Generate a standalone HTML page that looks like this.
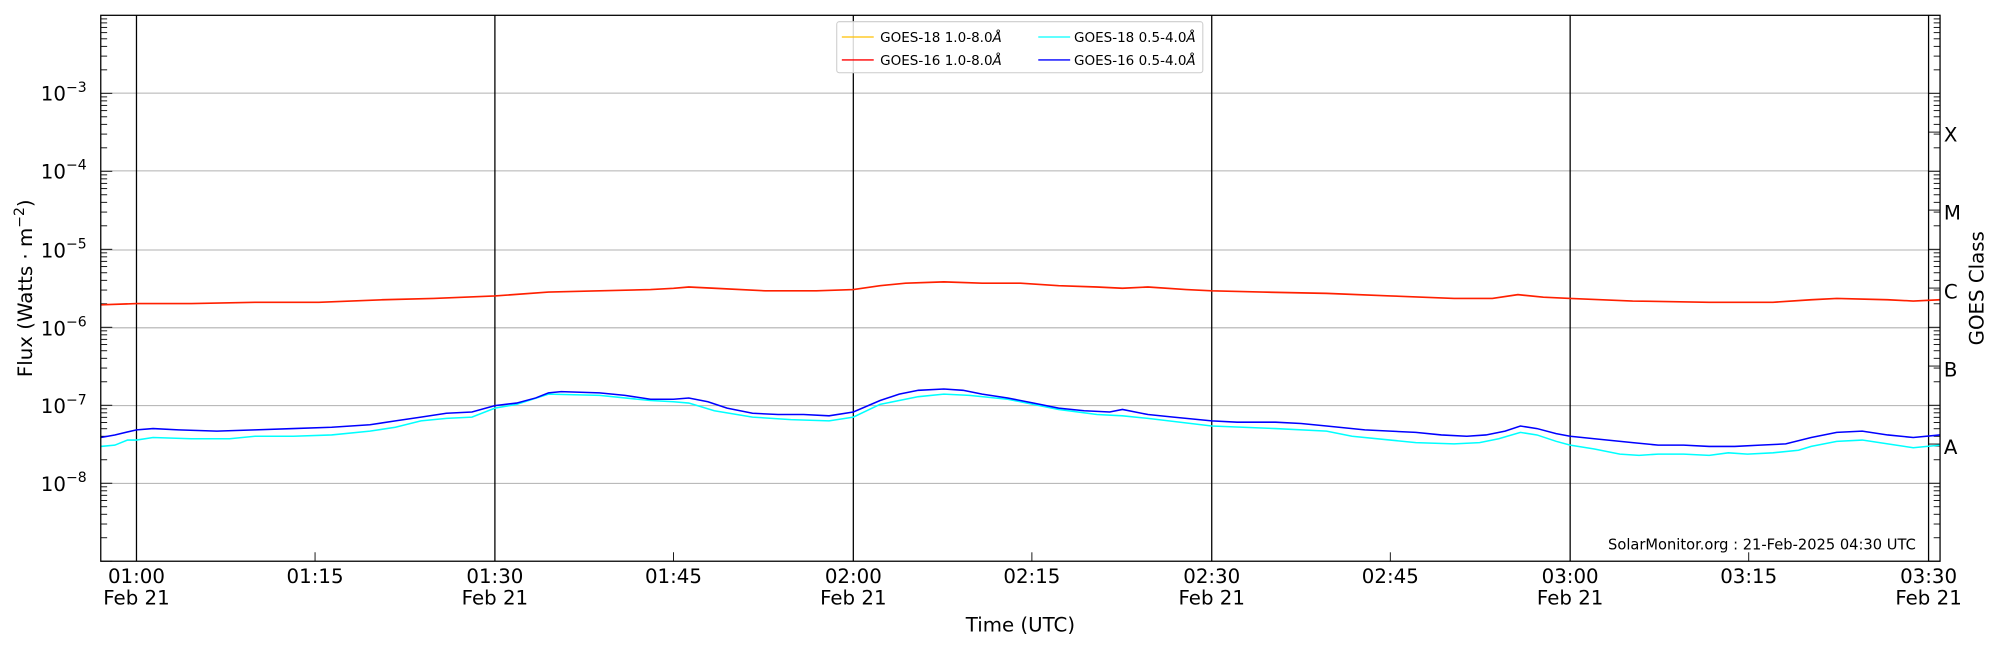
<!DOCTYPE html>
<html><head><meta charset="utf-8"><style>html,body{margin:0;padding:0;background:#fff}svg{display:block}</style></head>
<body>
<svg width="2000" height="650" viewBox="0 0 1568 509.6" preserveAspectRatio="none" xmlns="http://www.w3.org/2000/svg" font-family="'DejaVu Sans','Liberation Sans',sans-serif">
<rect width="1568" height="509.6" fill="#fff"/>
<g stroke="#b0b0b0" stroke-width="0.8">
<line x1="79" x2="1521" y1="73" y2="73"/><line x1="79" x2="1521" y1="134" y2="134"/><line x1="79" x2="1521" y1="196" y2="196"/><line x1="79" x2="1521" y1="257" y2="257"/><line x1="79" x2="1521" y1="318" y2="318"/><line x1="79" x2="1521" y1="379" y2="379"/>
</g>
<g stroke="#000" stroke-width="1">
<line x1="107" x2="107" y1="12" y2="440"/><line x1="388" x2="388" y1="12" y2="440"/><line x1="669" x2="669" y1="12" y2="440"/><line x1="950" x2="950" y1="12" y2="440"/><line x1="1231" x2="1231" y1="12" y2="440"/><line x1="1512" x2="1512" y1="12" y2="440"/>
</g>
<g id="ticks" stroke="#000" stroke-width="0.7"></g>
<polyline fill="none" stroke="#ff2000" stroke-width="1.3" points="79,239 107,238 150,238 200,237 250,237 300,235 340,234 388,232 430,229 470,228 510,227 528,226 540,225 560,226 600,228 640,228 669,227 690,224 710,222 740,221 770,222 800,222 830,224 860,225 880,226 900,225 930,227 950,228 990,229 1040,230 1090,232 1140,234 1170,234 1190,231 1210,233 1231,234 1280,236 1340,237 1390,237 1420,235 1440,234 1480,235 1500,236 1521,235"/>
<polyline fill="none" stroke="#00ffff" stroke-width="1.2" points="79,350 90,349 100,345 107,345 120,343 150,344 180,344 200,342 230,342 260,341 290,338 310,335 330,330 350,328 370,327 388,320 405,317 430,309 470,310 510,314 528,315 540,316 560,322 590,327 620,329 650,330 669,327 690,317 720,311 740,309 760,310 790,313 810,317 830,321 860,325 880,326 900,328 950,334 1000,336 1040,338 1060,342 1090,345 1110,347 1140,348 1160,347 1175,344 1192,339 1205,341 1220,346 1231,349 1250,352 1270,356 1285,357 1300,356 1320,356 1340,357 1355,355 1370,356 1390,355 1410,353 1420,350 1440,346 1460,345 1480,348 1500,351 1521,349"/>
<polyline fill="none" stroke="#0000ff" stroke-width="1.2" points="79,343 90,341 107,337 120,336 140,337 170,338 200,337 230,336 260,335 290,333 310,330 330,327 350,324 370,323 388,318 405,316 420,312 430,308 440,307 470,308 490,310 510,313 528,313 540,312 555,315 570,320 590,324 610,325 630,325 650,326 669,323 690,314 705,309 720,306 740,305 755,306 770,309 790,312 810,316 830,320 850,322 870,323 880,321 900,325 920,327 950,330 970,331 1000,331 1020,332 1040,334 1070,337 1090,338 1110,339 1130,341 1150,342 1165,341 1180,338 1192,334 1205,336 1220,340 1231,342 1250,344 1280,347 1300,349 1320,349 1340,350 1360,350 1380,349 1400,348 1420,343 1440,339 1460,338 1480,341 1500,343 1521,341"/>
<rect x="79" y="12" width="1442" height="428" fill="none" stroke="#000" stroke-width="1"/>
<g font-size="15.5" fill="#000">
<text x="32" y="79">10<tspan dy="-7" font-size="11">−3</tspan></text>
<text x="32" y="140">10<tspan dy="-7" font-size="11">−4</tspan></text>
<text x="32" y="202">10<tspan dy="-7" font-size="11">−5</tspan></text>
<text x="32" y="263">10<tspan dy="-7" font-size="11">−6</tspan></text>
<text x="32" y="324">10<tspan dy="-7" font-size="11">−7</tspan></text>
<text x="32" y="385">10<tspan dy="-7" font-size="11">−8</tspan></text>
</g>
<g font-size="15.5" text-anchor="middle">
<text x="107" y="457">01:00</text><text x="107" y="474">Feb 21</text>
<text x="247" y="457">01:15</text>
<text x="388" y="457">01:30</text><text x="388" y="474">Feb 21</text>
<text x="528" y="457">01:45</text>
<text x="669" y="457">02:00</text><text x="669" y="474">Feb 21</text>
<text x="809" y="457">02:15</text>
<text x="950" y="457">02:30</text><text x="950" y="474">Feb 21</text>
<text x="1090" y="457">02:45</text>
<text x="1231" y="457">03:00</text><text x="1231" y="474">Feb 21</text>
<text x="1371" y="457">03:15</text>
<text x="1512" y="457">03:30</text><text x="1512" y="474">Feb 21</text>
<text x="800" y="495">Time (UTC)</text>
<text transform="translate(25,226) rotate(-90)">Flux (Watts · m<tspan dy="-6" font-size="11">−2</tspan><tspan dy="6">)</tspan></text>
<text transform="translate(1555,226) rotate(-90)">GOES Class</text>
</g>
<g font-size="15.5">
<text x="1524" y="111">X</text><text x="1524" y="172">M</text><text x="1524" y="234">C</text><text x="1524" y="295">B</text><text x="1524" y="356">A</text>
</g>
<text x="1502" y="431" font-size="11.5" text-anchor="end">SolarMonitor.org : 21-Feb-2025 04:30 UTC</text>
<rect x="656" y="17" width="287" height="40" fill="#fff" fill-opacity="0.85" stroke="#ccc" stroke-width="0.8" rx="2"/>
<g font-size="10.6">
<line x1="660" x2="685" y1="29" y2="29" stroke="#ffc000"/><text x="690" y="33">GOES-18 1.0-8.0<tspan font-style="italic">Å</tspan></text>
<line x1="660" x2="685" y1="47" y2="47" stroke="#ff0000"/><text x="690" y="51">GOES-16 1.0-8.0<tspan font-style="italic">Å</tspan></text>
<line x1="814" x2="839" y1="29" y2="29" stroke="#00ffff"/><text x="842" y="33">GOES-18 0.5-4.0<tspan font-style="italic">Å</tspan></text>
<line x1="814" x2="839" y1="47" y2="47" stroke="#0000ff"/><text x="842" y="51">GOES-16 0.5-4.0<tspan font-style="italic">Å</tspan></text>
</g>
</svg>
<script>
(function(){var g=document.getElementById('ticks'),ns='http://www.w3.org/2000/svg';
function ln(x1,x2,y){var l=document.createElementNS(ns,'line');l.setAttribute('x1',x1);l.setAttribute('x2',x2);l.setAttribute('y1',y);l.setAttribute('y2',y);g.appendChild(l);}
var dec=61.14;
for(var d=0;d<7;d++){var base=440-d*dec;for(var k=1;k<10;k++){var y=base-Math.log10(k)*dec;if(y<12)continue;var L=(k==1)?9:5;ln(79,79+L,y);ln(1521,1521-L,y);}}
for(var c=0;c<5;c++){var y=73+dec*(c+0.5);ln(1521,1521-9,y);}
var xs=[247,528,809,1090,1371];xs.forEach(function(x){var l=document.createElementNS(ns,'line');l.setAttribute('x1',x);l.setAttribute('x2',x);l.setAttribute('y1',440);l.setAttribute('y2',433);g.appendChild(l);});
})();
</script>
</body></html>
